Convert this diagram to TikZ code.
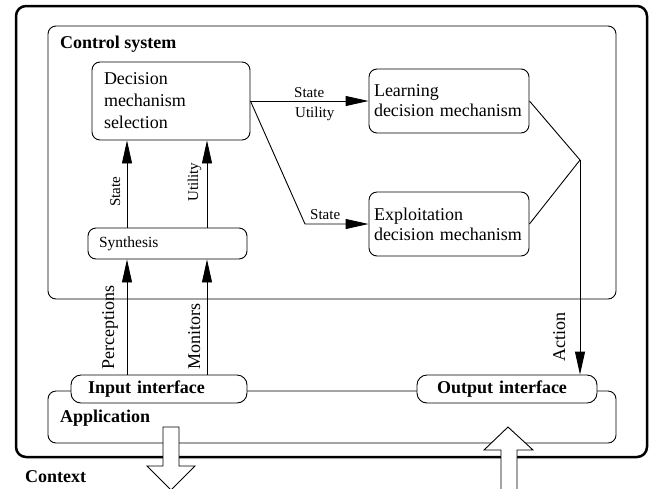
\documentclass[tikz,border=0pt]{standalone}
\usepackage{fontspec}
\setmainfont{Liberation Serif}
\usetikzlibrary{arrows.meta}

\begin{document}
\begin{tikzpicture}[x=1pt,y=-1pt,
  thin/.style={line width=0.9pt},
  box/.style={draw, thin, fill=white, rounded corners=8pt, inner ysep=0pt, align=left},
  iface/.style={box, rounded corners=10pt, font=\fontsize{18}{22}\selectfont\bfseries},
  flow/.style={thin, -{Triangle[length=23pt,width=10pt]}},
  bigtxt/.style={font=\fontsize{18}{22}\selectfont, inner sep=0pt},
  smalltxt/.style={font=\fontsize{15}{18}\selectfont, inner sep=0pt},
  boldtxt/.style={font=\fontsize{18}{22}\selectfont\bfseries, inner sep=0pt},
  hollow/.style={draw, thin, fill=white}
]
\useasboundingbox (0,0) rectangle (663,488);

% outer frame
\draw[line width=2.5pt, rounded corners=10pt] (16,6) rectangle (647,457);

% control system container
\node[draw, thin, rounded corners=8pt, minimum width=568pt, minimum height=273pt, inner sep=0pt]
  (control) at (332,162.5) {};
\node[boldtxt, anchor=base west] (controllbl) at (60,48) {Control system};

% application container
\node[draw, thin, rounded corners=8pt, minimum width=568pt, minimum height=52pt, inner sep=0pt]
  (app) at (332,417) {};
\node[boldtxt, anchor=base west] (applbl) at (60,422) {Application};

% components
\node[box, font=\fontsize{18}{22}\selectfont, text width=134pt, inner xsep=12pt,
  minimum width=158pt, minimum height=78pt] (decision) at (171,101)
  {Decision\\mechanism\\selection};
\node[box, font=\fontsize{18}{20}\selectfont, text width=150pt, inner xsep=5pt,
  minimum width=160pt, minimum height=64pt] (learning) at (449,101)
  {Learning\\decision mechanism};
\node[box, font=\fontsize{18}{20}\selectfont, text width=150pt, inner xsep=5pt,
  minimum width=160pt, minimum height=64pt] (exploit) at (449,224)
  {Exploitation\\decision mechanism};
\node[box, font=\fontsize{15.5}{18}\selectfont, text width=137pt, inner xsep=11pt,
  minimum width=159pt, minimum height=31pt] (synth) at (167.5,243.5) {Synthesis};

% interfaces
\node[iface, text width=142pt, inner xsep=17pt, minimum width=176pt, minimum height=28pt]
  (input) at (159,389) {Input interface};
\node[iface, text width=140pt, inner xsep=20pt, minimum width=180pt, minimum height=28pt]
  (output) at (507,389) {Output interface};

% guide positions for the vertical connectors
\coordinate (colA) at (127,0);
\coordinate (colB) at (207,0);
\coordinate (bend) at (305,224);
\coordinate (join) at (580,160);

% connectors
\draw[flow] (input.north -| colA) -- (synth.south -| colA);
\draw[flow] (input.north -| colB) -- (synth.south -| colB);
\draw[flow] (synth.north -| colA) -- (decision.south -| colA);
\draw[flow] (synth.north -| colB) -- (decision.south -| colB);
\draw[flow] (decision.east) -- (learning.west);
\draw[flow] (decision.east) -- (bend) -- (exploit.west);
\draw[thin] (learning.east) -- (join);
\draw[thin] (exploit.east) -- (join);
\draw[flow] (join) -- (output.north -| join);

% connector labels
\node[smalltxt, anchor=base west] (lstate1) at (294,97) {State};
\node[smalltxt, anchor=base west] (lutil1) at (295,117) {Utility};
\node[smalltxt, anchor=base west] (lstate2) at (310,219) {State};
\node[smalltxt, rotate=90, anchor=base west] (lstate3) at (120,207) {State};
\node[smalltxt, rotate=90, anchor=base west] (lutil2) at (198,202) {Utility};
\node[bigtxt, rotate=90, anchor=base west] (lperc) at (114,370) {Perceptions};
\node[bigtxt, rotate=90, anchor=base west] (lmon) at (200,370) {Monitors};
\node[bigtxt, rotate=90, anchor=base west] (lact) at (565,362) {Action};

% exchanges with the context
\draw[hollow] (163,427) -- (179,427) -- (179,466) -- (195,466) -- (171,490)
  -- (147,466) -- (163,466) -- cycle;
\draw[hollow] (508,427) -- (533,450) -- (517,450) -- (517,496) -- (501,496)
  -- (501,450) -- (484,450) -- cycle;

\node[boldtxt, anchor=base west] (ctxlbl) at (25,482) {Context};
\end{tikzpicture}
\end{document}
